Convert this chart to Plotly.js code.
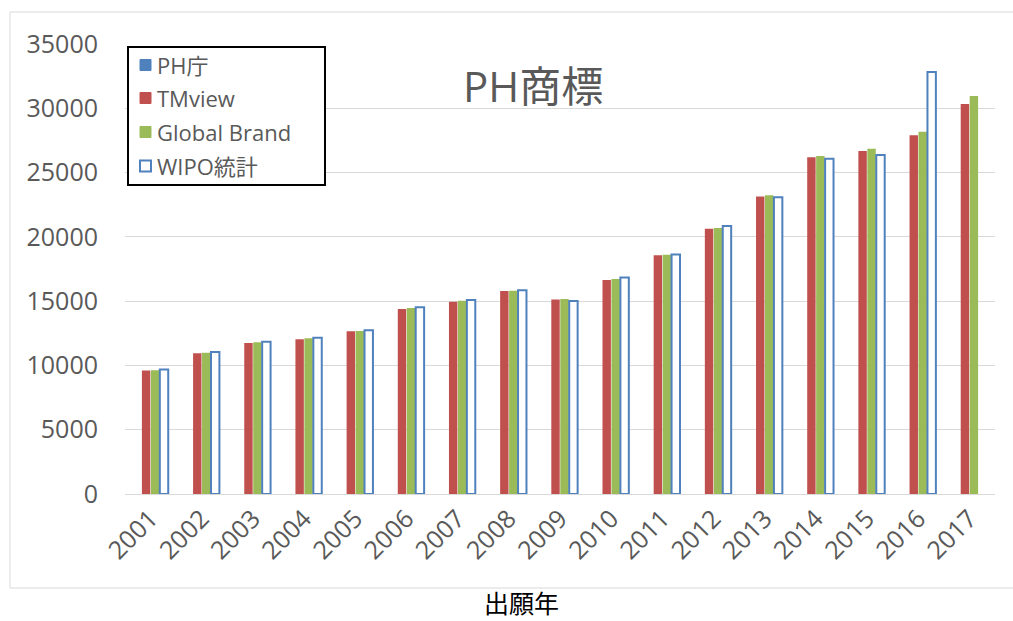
<!DOCTYPE html>
<html>
<head>
<meta charset="utf-8">
<script src="https://cdn.plot.ly/plotly-3.0.1.min.js"></script>
<style>
html,body{margin:0;padding:0;background:#fff;}
#chart{width:1013px;height:621px;}
</style>
</head>
<body>
<div id="chart"></div>
<script>
const years = ["2001","2002","2003","2004","2005","2006","2007","2008","2009","2010","2011","2012","2013","2014","2015","2016","2017"];
const phOffice = [null,null,null,null,null,null,null,null,null,null,null,null,null,null,null,null,null];
const tmview = [9600,10950,11750,12030,12650,14390,14960,15790,15120,16650,18560,20640,23130,26190,26680,27900,30330];
const globalBrand = [9620,10990,11800,12110,12680,14470,15040,15815,15170,16730,18610,20690,23230,26290,26860,28180,30960];
const wipo = [9680,11045,11845,12160,12730,14520,15090,15840,15010,16830,18620,20845,23075,26080,26370,32820,null];
const seriesNames = ["PH庁","TMview","Global Brand","WIPO統計"];
const yTicks = [0,5000,10000,15000,20000,25000,30000,35000];

const L = 125, R = 18, T = 44, B = 127;
const W = 1013, H = 621;
const pw = W - L - R, ph = H - T - B;
const px = x => (x - L) / pw;
const py = y => (H - B - y) / ph;

const font = "'Open Sans', 'Noto Sans', 'Noto Sans CJK JP', sans-serif";
const grey = "#595959";

const traces = [
  {type:"bar", name:seriesNames[0], x:years, y:phOffice, marker:{color:"#4F81BD"}, showlegend:false},
  {type:"bar", name:seriesNames[1], x:years, y:tmview, marker:{color:"#C0504D"}, showlegend:false},
  {type:"bar", name:seriesNames[2], x:years, y:globalBrand, marker:{color:"#9BBB59"}, showlegend:false},
  {type:"bar", name:seriesNames[3], x:years, y:wipo, marker:{color:"#FFFFFF", line:{color:"#4F81BD", width:2}}, showlegend:false}
];

// custom legend
const legX0 = 128, legX1 = 325, legY0 = 47, legY1 = 185;
const legRows = [65, 98, 132, 166];
const shapes = [
  {type:"rect", xref:"paper", yref:"paper", x0:px(10), x1:px(1040), y0:py(588), y1:py(12), line:{color:"#D9D9D9", width:1}, fillcolor:"rgba(0,0,0,0)", layer:"below"},
  {type:"rect", xref:"paper", yref:"paper", x0:px(legX0), x1:px(legX1), y0:py(legY1), y1:py(legY0), line:{color:"#000000", width:2}, fillcolor:"#FFFFFF"}
];
const annotations = [
  {text:"PH商標", xref:"paper", yref:"paper", x:px(533), y:py(85), xanchor:"center", yanchor:"middle", showarrow:false, font:{family:font, size:42, color:grey}},
  {text:"出願年", xref:"paper", yref:"paper", x:px(521), y:py(602), xanchor:"center", yanchor:"middle", showarrow:false, font:{family:"'Noto Sans CJK JP', sans-serif", size:25, color:"#000000"}}
];
const legStyles = [
  {fill:"#4F81BD", line:"#4F81BD"},
  {fill:"#C0504D", line:"#C0504D"},
  {fill:"#9BBB59", line:"#9BBB59"},
  {fill:"#FFFFFF", line:"#4F81BD"}
];
legRows.forEach((cy, i) => {
  shapes.push({type:"rect", xref:"paper", yref:"paper", x0:px(140), x1:px(151), y0:py(cy+5.5), y1:py(cy-5.5), line:{color:legStyles[i].line, width:i===3?2:1}, fillcolor:legStyles[i].fill});
  annotations.push({text:seriesNames[i], xref:"paper", yref:"paper", x:px(155), y:py(cy), xanchor:"left", yanchor:"middle", showarrow:false, font:{family:font, size:22, color:grey}});
});

const layout = {
  width:W, height:H,
  margin:{l:L, r:R, t:T, b:B, pad:0},
  paper_bgcolor:"#FFFFFF", plot_bgcolor:"#FFFFFF",
  barmode:"group", bargap:0.3, bargroupgap:0.06,
  showlegend:false,
  xaxis:{type:"category", tickangle:-45, tickfont:{family:font, size:25, color:grey}, showgrid:false, showline:false, zeroline:false, ticks:"", ticklabelstandoff:4},
  yaxis:{range:[0,35000], tickvals:yTicks, ticktext:yTicks.map(String), tickfont:{family:font, size:25, color:grey}, showgrid:true, gridcolor:"#D9D9D9", gridwidth:1, zeroline:true, zerolinecolor:"#D9D9D9", zerolinewidth:1, showline:false, ticks:"", ticklabelstandoff:26},
  shapes:shapes,
  annotations:annotations
};

Plotly.newPlot("chart", traces, layout, {displayModeBar:false, staticPlot:true});
</script>
</body>
</html>
